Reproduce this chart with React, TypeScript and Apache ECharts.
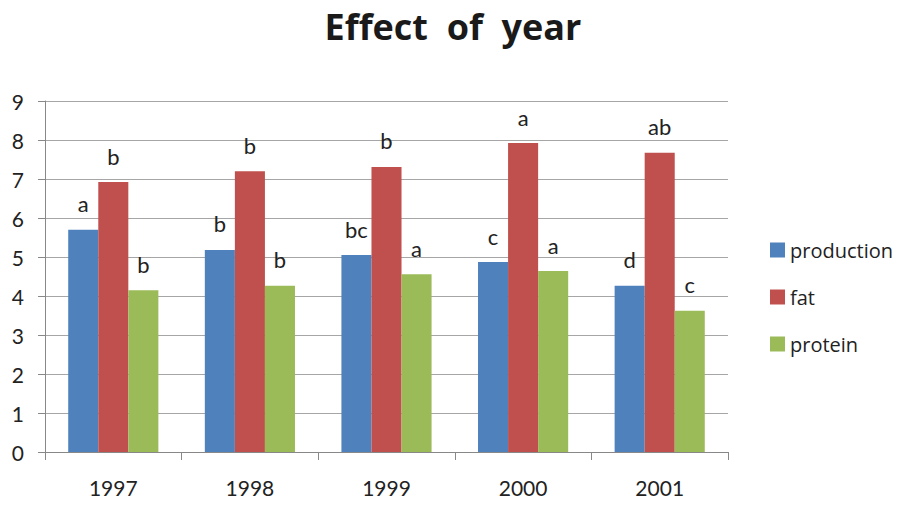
import React, { useEffect, useRef } from "react";
import * as echarts from "echarts";

const years = ["1997", "1998", "1999", "2000", "2001"];
const production = [5.7, 5.18, 5.05, 4.87, 4.26];
const fat = [6.92, 7.2, 7.31, 7.92, 7.67];
const protein = [4.15, 4.26, 4.56, 4.64, 3.62];
const productionLetters = ["a", "b", "bc", "c", "d"];
const fatLetters = ["b", "b", "b", "a", "ab"];
const proteinLetters = ["b", "b", "a", "a", "c"];

const FONT = "Lato, 'Open Sans', sans-serif";

function series(name: string, values: number[], letters: string[], color: string) {
  return {
    name,
    type: "bar" as const,
    data: values,
    barGap: "0%",
    barCategoryGap: "34%",
    itemStyle: { color },
    label: {
      show: true,
      position: "top" as const,
      distance: 15,
      fontFamily: FONT,
      fontSize: 22,
      color: "#222",
      formatter: (p: any) => letters[p.dataIndex],
    },
  };
}

export default function App() {
  const ref = useRef<HTMLDivElement>(null);
  useEffect(() => {
    if (!ref.current) return;
    const chart = echarts.init(ref.current, undefined, { renderer: "svg" });
    chart.setOption({
      animation: false,
      backgroundColor: "#fff",
      title: {
        text: "Effect  of  year",
        left: 448,
        textAlign: "center",
        top: 3,
        textStyle: { fontFamily: "'Open Sans', sans-serif", fontSize: 36, fontWeight: "bold", color: "#1a1a1a" },
      },
      grid: { left: 45, right: 187, top: 101, bottom: 57 },
      legend: {
        orient: "vertical",
        left: 765,
        top: 235,
        itemWidth: 15,
        itemHeight: 15,
        itemGap: 27,
        icon: "rect",
        textStyle: { fontFamily: "'Open Sans', sans-serif", fontSize: 20, color: "#222" },
        data: ["production", "fat", "protein"],
      },
      xAxis: {
        type: "category",
        data: years,
        axisLine: { lineStyle: { color: "#888", width: 1 } },
        axisTick: { show: true, length: 8, lineStyle: { color: "#888" } },
        axisLabel: { fontFamily: FONT, fontSize: 21, color: "#222", margin: 25 },
      },
      yAxis: {
        type: "value",
        min: 0,
        max: 9,
        interval: 1,
        axisLine: { show: true, lineStyle: { color: "#888", width: 1 } },
        axisTick: { show: true, length: 7, lineStyle: { color: "#888" } },
        axisLabel: { fontFamily: FONT, fontSize: 21, color: "#222", margin: 21 },
        splitLine: { lineStyle: { color: "#a6a6a6", width: 1 } },
      },
      series: [
        series("production", production, productionLetters, "#4f81bd"),
        series("fat", fat, fatLetters, "#c0504d"),
        series("protein", protein, proteinLetters, "#9bbb59"),
      ],
    });
    return () => chart.dispose();
  }, []);
  return <div ref={ref} style={{ width: 915, height: 509, position: "absolute", left: 0, top: 0 }} />;
}
